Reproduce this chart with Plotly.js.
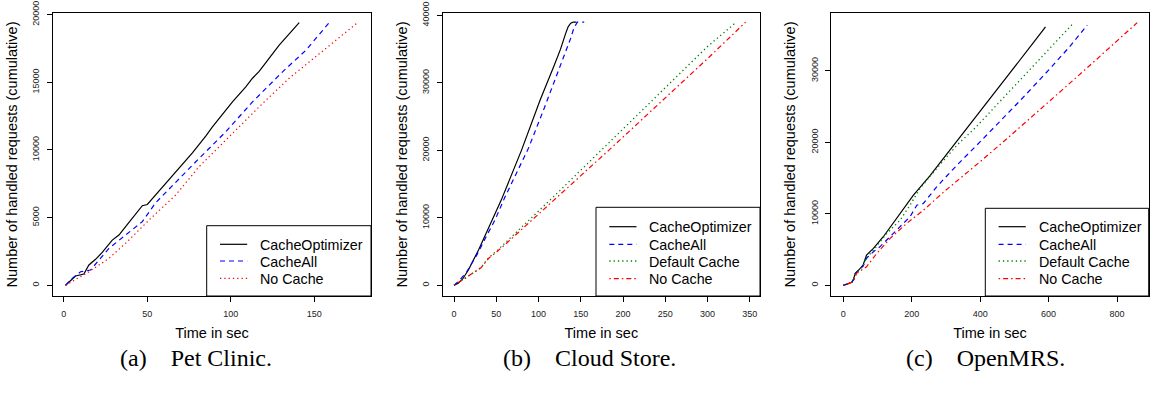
<!DOCTYPE html>
<html>
<head>
<meta charset="utf-8">
<script src="https://cdn.plot.ly/plotly-3.0.1.min.js"></script>
<style>html,body{margin:0;padding:0;background:#fff;}#chart{width:1151px;height:396px;}</style>
</head>
<body>
<div id="chart"></div>
<script>
// ---------- Data ----------
// (a) Pet Clinic
const petOptX = [1, 7, 12, 15, 19, 23, 29, 33, 37, 47, 50, 55, 65, 77, 85, 89, 101, 109, 113, 117, 121, 129, 141];
const petOptY = [0, 690, 830, 1500, 1920, 2430, 3340, 3710, 4330, 5880, 5970, 6670, 8140, 9790, 11020, 11700, 13550, 14660, 15300, 15800, 16450, 17750, 19410];
const petAllX = [1, 5, 10, 16, 27, 37, 47, 55, 69, 81, 97, 113, 131, 145, 159];
const petAllY = [0, 500, 1000, 1130, 2730, 3710, 4700, 6100, 7900, 9370, 11340, 13550, 15770, 17370, 19410];
const petNoX = [1, 15, 27, 37, 51, 67, 81, 97, 119, 135, 153, 176];
const petNoY = [0, 1000, 1990, 3100, 4820, 6670, 8760, 10730, 13430, 15300, 17100, 19410];

// (b) Cloud Store
const csOptX = [0, 5, 10, 17, 29, 41, 56, 80, 102, 118, 126, 132, 135, 138, 141, 145];
const csOptY = [0, 300, 900, 2270, 5240, 8460, 12660, 20070, 27490, 32430, 35000, 37300, 38300, 38850, 39000, 39000];
const csAllX = [0, 5, 15, 27, 37, 48.5, 60, 70, 88, 106, 118, 130, 138, 142, 146, 154];
const csAllY = [0, 530, 2000, 4500, 6970, 9690, 13000, 15600, 20300, 26010, 29970, 33920, 36600, 38200, 39000, 39000];
const csDefX = [0, 5, 13, 25, 32, 41, 51, 64, 76, 95, 127, 150, 183, 220, 264, 300, 334];
const csDefY = [0, 450, 1040, 2025, 2650, 4100, 5150, 6700, 8100, 10400, 14250, 17050, 21000, 25600, 31000, 35400, 39000];
const csNoX = [0, 5, 13, 25, 32, 41, 51, 64, 76, 95, 127, 150, 183, 220, 264, 300, 345];
const csNoY = [0, 450, 1040, 2025, 2600, 4000, 5000, 6450, 7800, 10000, 13650, 16250, 20000, 24300, 29400, 33600, 39000];

// (c) OpenMRS
const omOptX = [0, 15, 25, 30, 35, 45, 58, 68, 88, 117, 156, 205, 253, 302, 351, 375, 403, 462, 520, 559, 591];
const omOptY = [0, 250, 420, 900, 1680, 2140, 2840, 4230, 5170, 6800, 9350, 12620, 15300, 18300, 21250, 22780, 24510, 28160, 31750, 34150, 36150];
const omAllX = [0, 15, 25, 30, 35, 45, 58, 68, 88, 107, 156, 195, 215, 234, 273, 332, 390, 450, 520, 600, 660, 713];
const omAllY = [0, 250, 420, 800, 1600, 2100, 2700, 3800, 4700, 5390, 7730, 9590, 11220, 11450, 13780, 16810, 19600, 22500, 26000, 30100, 33300, 36400];
const omDefX = [0, 15, 25, 30, 35, 45, 58, 68, 88, 127, 166, 195, 224, 273, 332, 385, 440, 500, 569, 620, 669];
const omDefY = [0, 250, 420, 850, 1600, 2100, 2750, 3900, 4900, 7260, 9120, 11220, 13550, 16350, 19600, 22000, 24800, 27900, 31300, 33900, 36500];
const omNoX = [0, 20, 29, 39, 50, 68, 98, 137, 185, 234, 292, 351, 400, 473, 550, 620, 705, 780, 859];
const omNoY = [0, 300, 500, 1680, 2000, 2600, 4470, 6570, 8660, 10500, 13000, 15300, 17300, 20300, 23500, 26500, 30100, 33400, 36750];

const captions = ["(a)\u2003Pet Clinic.", "(b)\u2003Cloud Store.", "(c)\u2003OpenMRS."];
const xTitle = "Time in sec";
const yTitle = "Number of handled requests (cumulative)";
const xTicks = [[0, 50, 100, 150], [0, 50, 100, 150, 200, 250, 300, 350], [0, 200, 400, 600, 800]];
const yTicks = [[0, 5000, 10000, 15000, 20000], [0, 10000, 20000, 30000, 40000], [0, 10000, 20000, 30000]];

// ---------- Layout geometry (pixels) ----------
const W = 1151, H = 396;
const px = p => p / W, py = p => (H - p) / H;
const boxes = [[53, 371], [442.7, 760], [831.3, 1148.7]];
const boxTop = 13, boxBot = 296;
const xRanges = [[-6.5, 184], [-13.4, 362], [-35, 892.6]];
const yRanges = [[-790, 20118], [-1588, 40356], [-1490, 38100]];
const legendBoxes = [[206.7, 225.7], [596, 207.3], [985.3, 208.3]];
const legendRows = [[244.3, 261, 278.3], [226.7, 244.3, 261, 278.7], [226.7, 244.3, 261, 278.7]];
const captionX = [196, 589, 985];

const FONT = "Liberation Sans, Arial, Helvetica, sans-serif";
const styles = {
  "CacheOptimizer": {color: "#000000", dash: "solid", width: 1.2},
  "CacheAll": {color: "#0000ff", dash: "5px,4px", width: 1.2},
  "Default Cache": {color: "#008000", dash: "1.3px,3px", width: 1.3},
  "No Cache": {color: "#ff0000", dash: "1.5px,3px,5px,3px", width: 1.2}
};

const panels = [
  [["CacheOptimizer", petOptX, petOptY], ["CacheAll", petAllX, petAllY], ["No Cache", petNoX, petNoY]],
  [["CacheOptimizer", csOptX, csOptY], ["CacheAll", csAllX, csAllY], ["Default Cache", csDefX, csDefY], ["No Cache", csNoX, csNoY]],
  [["CacheOptimizer", omOptX, omOptY], ["CacheAll", omAllX, omAllY], ["Default Cache", omDefX, omDefY], ["No Cache", omNoX, omNoY]]
];

const traces = [];
const layout = {
  width: W, height: H,
  margin: {l: 0, r: 0, t: 0, b: 0},
  paper_bgcolor: "#fff", plot_bgcolor: "#fff",
  showlegend: false,
  font: {family: FONT, color: "#000"},
  shapes: [], annotations: []
};

panels.forEach((series, i) => {
  const n = i + 1;
  const xa = "x" + (n === 1 ? "" : n), ya = "y" + (n === 1 ? "" : n);
  const lb = legendBoxes[i];
  // legend frame (white, covers the plot like R's legend box)
  layout.shapes.push({
    type: "rect", xref: "paper", yref: "paper", layer: "above",
    x0: px(lb[0]), x1: px(boxes[i][1]), y0: py(boxBot), y1: py(lb[1]),
    line: {color: "#000", width: 1}, fillcolor: "#fff"
  });
  series.forEach(([name, xs, ys], k) => {
    const st = styles[name];
    let dash = st.dash;
    if (i === 0 && name === "No Cache") dash = "1.3px,3px";
    traces.push({
      type: "scatter", mode: "lines", name: name, x: xs, y: ys,
      xaxis: xa, yaxis: ya,
      line: {color: st.color, width: st.width, dash: dash}
    });
    // legend entry: sample line + label
    const rowY = legendRows[i][k];
    layout.shapes.push({
      type: "line", xref: "paper", yref: "paper", layer: "above",
      x0: px(lb[0] + 13.3), x1: px(lb[0] + 40.5), y0: py(rowY), y1: py(rowY),
      line: {color: st.color, width: st.width, dash: dash}
    });
    layout.annotations.push({
      text: name, xref: "paper", yref: "paper",
      x: px(lb[0] + 52.5), y: py(rowY + 0.5), xanchor: "left", yanchor: "middle",
      showarrow: false, borderpad: 0,
      font: {family: FONT, size: 14.3, color: "#000"}
    });
  });
  const axBase = {
    showline: true, mirror: true, linecolor: "#000", linewidth: 1,
    ticks: "outside", ticklen: 5, tickcolor: "#000", tickwidth: 1,
    showgrid: false, zeroline: false, tickformat: "d",
    tickfont: {family: FONT, size: 9, color: "#222"}
  };
  layout["xaxis" + (n === 1 ? "" : n)] = Object.assign({}, axBase, {
    domain: [px(boxes[i][0]), px(boxes[i][1])],
    anchor: ya, range: xRanges[i], tickmode: "array", tickvals: xTicks[i],
    ticklabelstandoff: 4,
    title: {text: xTitle, font: {family: FONT, size: 14.5}, standoff: 10}
  });
  layout["yaxis" + (n === 1 ? "" : n)] = Object.assign({}, axBase, {
    domain: [py(boxBot), py(boxTop)],
    anchor: xa, range: yRanges[i], tickmode: "array", tickvals: yTicks[i],
    tickangle: -90, ticklabelstandoff: 4,
    title: {text: yTitle, font: {family: FONT, size: 14.5}, standoff: 10}
  });
  layout.annotations.push({
    text: captions[i], xref: "paper", yref: "paper",
    x: px(captionX[i]), y: py(358), xanchor: "center", yanchor: "middle",
    showarrow: false, font: {family: "Liberation Serif, Times New Roman, serif", size: 24, color: "#000"}
  });
});

Plotly.newPlot("chart", traces, layout, {displayModeBar: false, staticPlot: true});
</script>
</body>
</html>
